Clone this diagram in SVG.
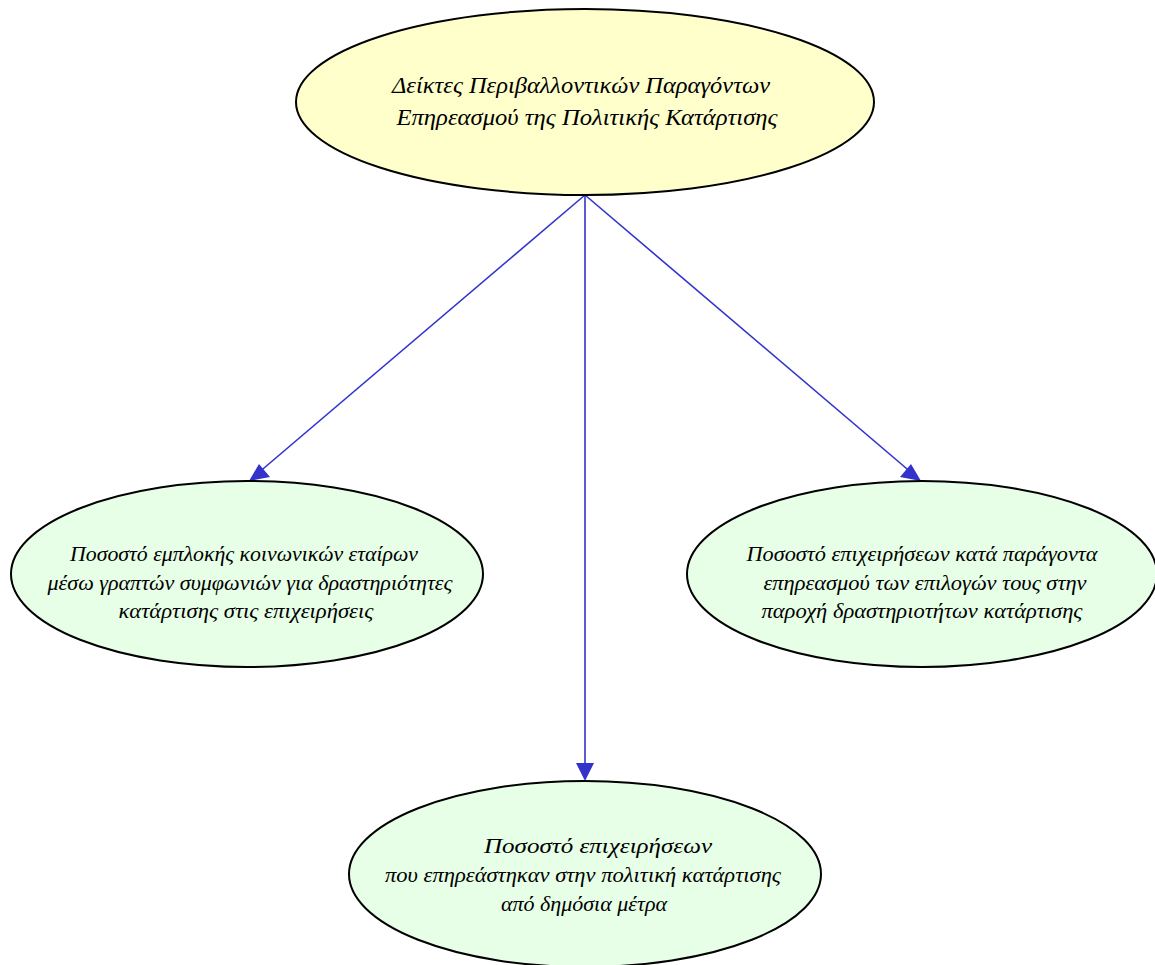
<svg xmlns="http://www.w3.org/2000/svg" width="1155" height="965" viewBox="0 0 1155 965">
<defs>
<style>
.n{stroke:#000;stroke-width:2}
.root{fill:#ffffcc}
.leaf{fill:#e6ffe6}
text{font-family:"Liberation Serif","DejaVu Serif",serif;font-style:italic;font-size:21px;fill:#000;text-anchor:middle}
.big{font-size:23px}
.e{stroke:#3333cc;stroke-width:1.6;fill:none}
.ah{fill:#3333cc}
</style>
</defs>
<rect width="1155" height="965" fill="#fff"/>
<g id="edges">
<path class="e" d="M585,195 L257,474"/>
<polygon class="ah" points="249,481 259,464 270,477"/>
<path class="e" d="M585,195 L585,770"/>
<polygon class="ah" points="585,781 576,763 594,763"/>
<path class="e" d="M585,195 L913,474"/>
<polygon class="ah" points="921,481 900,477 911,464"/>
</g>
<g id="root">
<ellipse class="n root" cx="585" cy="102" rx="289" ry="93"/>
<text class="big" x="581" y="93" textLength="378" lengthAdjust="spacingAndGlyphs">Δείκτες Περιβαλλοντικών Παραγόντων</text>
<text class="big" x="587" y="125" textLength="381" lengthAdjust="spacingAndGlyphs">Επηρεασμού της Πολιτικής Κατάρτισης</text>
</g>
<g id="left">
<ellipse class="n leaf" cx="247" cy="574" rx="236" ry="93"/>
<text x="244" y="561" textLength="348" lengthAdjust="spacingAndGlyphs">Ποσοστό εμπλοκής κοινωνικών εταίρων</text>
<text x="250" y="590" textLength="405" lengthAdjust="spacingAndGlyphs">μέσω γραπτών συμφωνιών για δραστηριότητες</text>
<text x="246" y="618" textLength="255" lengthAdjust="spacingAndGlyphs">κατάρτισης στις επιχειρήσεις</text>
</g>
<g id="right">
<ellipse class="n leaf" cx="922" cy="574" rx="235" ry="93"/>
<text x="922" y="561" textLength="351" lengthAdjust="spacingAndGlyphs">Ποσοστό επιχειρήσεων κατά παράγοντα</text>
<text x="925" y="590" textLength="323" lengthAdjust="spacingAndGlyphs">επηρεασμού των επιλογών τους στην</text>
<text x="922" y="618" textLength="321" lengthAdjust="spacingAndGlyphs">παροχή δραστηριοτήτων κατάρτισης</text>
</g>
<g id="bottom">
<ellipse class="n leaf" cx="585" cy="874" rx="236" ry="93"/>
<text x="598" y="853" textLength="228" lengthAdjust="spacingAndGlyphs">Ποσοστό επιχειρήσεων</text>
<text x="583" y="882" textLength="396" lengthAdjust="spacingAndGlyphs">που επηρεάστηκαν στην πολιτική κατάρτισης</text>
<text x="584" y="911" textLength="166" lengthAdjust="spacingAndGlyphs">από δημόσια μέτρα</text>
</g>
</svg>
